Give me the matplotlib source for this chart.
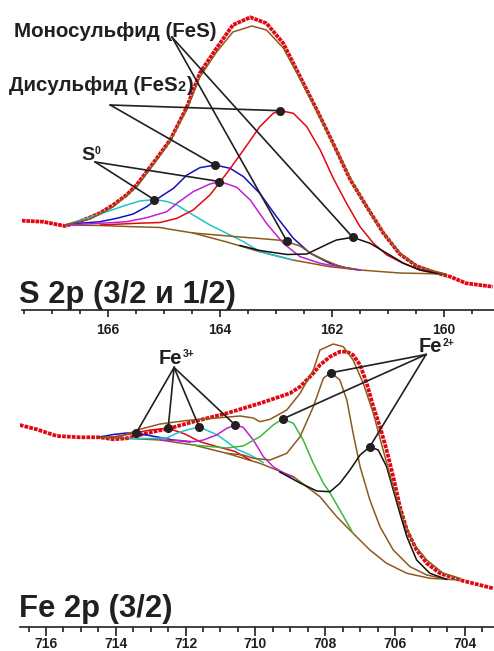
import matplotlib
matplotlib.use('Agg')
import matplotlib.pyplot as plt
from matplotlib.ticker import MultipleLocator

plt.rcParams['font.family'] = ['Liberation Sans', 'DejaVu Sans']

# ---- S 2p : binding energy (eV) and intensity (a.u.) ----
s_exp_e = [167.54, 167.16, 166.95, 166.77, 166.56, 166.32, 166.14, 165.91, 165.67, 165.49, 165.31,
           165.13, 164.89, 164.59, 164.36, 164.06, 163.77, 163.46, 163.17, 162.87, 162.57, 162.27,
           161.98, 161.68, 161.38, 161.08, 160.79, 160.49, 160.19, 159.89, 159.60, 159.13]
s_exp_i = [89.3, 88.3, 86, 84, 87.3, 92.7, 97, 105, 115, 125, 138.3,
           151.7, 170, 203.3, 237, 262, 285, 292.7, 286.7, 266.7, 233.3, 200,
           166.7, 131, 103.3, 76.7, 56, 44, 38, 33.3, 26.7, 23.3]
s_fit_e = [166.77, 166.32, 165.91, 165.49, 165.13, 164.89, 164.59, 164.36, 164.06, 163.77, 163.43, 163.17,
           162.87, 162.57, 162.27, 161.98, 161.68, 161.38, 161.08, 160.79, 160.49, 160.19, 159.98]
s_fit_i = [85, 91, 103, 123, 150, 169, 201, 233, 258, 278, 284, 280,
           262, 231, 199, 166, 132, 103, 77, 57, 44, 39, 36]
s_bg_e = [166.77, 166.14, 165.55, 165.07, 164.89, 164.48, 163.88, 163.29, 162.70, 162.04, 161.50, 160.79, 159.98]
s_bg_i = [85, 84.5, 83.3, 82.5, 80.7, 77, 68, 58.3, 50, 43.3, 40, 37, 36]
s_cyan_e = [166.77, 166.38, 166.02, 165.67, 165.43, 165.16, 164.95, 164.77, 164.48, 164.18, 163.88, 163.58, 163.29, 162.70]
s_cyan_i = [85, 91.7, 98.3, 105, 109, 110.5, 108.5, 105, 95, 85, 76.7, 68.3, 58.5, 50]
s_blue_e = [166.77, 166.50, 166.14, 165.84, 165.55, 165.31, 165.07, 164.83, 164.59, 164.36, 164.09,
            163.82, 163.58, 163.29, 162.99, 162.69, 162.39, 162.04, 161.77, 161.50]
s_blue_i = [85, 86.7, 88.3, 91.7, 96, 103.3, 113, 121.7, 135, 142.3, 145,
            141.7, 133.3, 116.7, 93.3, 71.7, 56.7, 46.7, 42.5, 40]
s_mag_e = [166.77, 166.14, 165.67, 165.31, 164.95, 164.77, 164.48, 164.18, 164.00, 163.70, 163.46,
           163.17, 162.87, 162.57, 162.21, 161.86, 161.50]
s_mag_i = [85, 86.7, 88.3, 92.3, 98.3, 106.7, 118.3, 126, 128.5, 122.7, 110,
           86.7, 66.7, 53.3, 46.7, 43, 40]
s_red_e = [166.14, 165.49, 165.07, 164.77, 164.48, 164.18, 163.88, 163.58, 163.29, 163.05, 162.92,
           162.69, 162.45, 162.21, 161.98, 161.74, 161.50, 161.26, 161.02, 160.73, 160.43, 160.20]
s_red_i = [85, 86.7, 87.5, 91.7, 100, 115, 136.7, 160, 183.3, 196.7, 199.3,
           196.7, 183.3, 160, 132, 106.7, 83.3, 66.7, 55, 46.7, 40, 37.3]
s_brown_e = [164.48, 164.06, 163.64, 163.29, 162.88, 162.57, 162.39, 162.13, 161.86, 161.59]
s_brown_i = [77, 75, 73, 71.5, 69.5, 64, 57, 50, 43.5, 40.5]
s_black_e = [163.64, 163.29, 162.80, 162.45, 162.04, 161.92, 161.63, 161.32, 161.02, 160.73, 160.43, 160.20, 159.98]
s_black_i = [64.5, 59.5, 55.5, 56, 67, 70, 72.7, 66.7, 56.7, 47, 40, 37.5, 36]

# ---- Fe 2p3/2 ----
fe_exp_e = [716.75, 716.27, 715.69, 715.03, 714.45, 714.07, 713.69, 713.31, 712.83, 712.45, 711.78,
            710.82, 709.87, 709.01, 708.72, 708.34, 708.15, 707.86, 707.58, 707.38, 707.20, 707.00,
            706.81, 706.62, 706.43, 706.24, 706.05, 705.86, 705.66, 705.38, 705.09, 704.71, 704.14, 703.19]
fe_exp_i = [202, 197.7, 191, 189.7, 189.7, 187.7, 188.7, 192, 196, 198.7, 205.3,
            213.7, 223.7, 233.7, 240.3, 253.7, 262, 270.3, 275.3, 275.3, 272, 262,
            243.7, 220.3, 200.3, 177, 150.3, 120.3, 97, 77, 63.7, 53.7, 47, 38.7]
fe_fit_e = [714.45, 713.88, 713.31, 712.73, 711.97, 711.11, 710.44, 710.06, 709.87, 709.58, 709.10, 708.72, 708.34,
            708.15, 707.77, 707.48, 707.20, 706.91, 706.62, 706.34, 706.05, 705.76, 705.48, 705.09, 704.62, 704.14]
fe_fit_i = [189.7, 190.3, 197.7, 203, 206.5, 209, 211, 209, 205.3, 207.7, 217, 233.7, 257,
            277, 283, 280.3, 267, 243.7, 213.7, 177, 140.3, 107, 83.7, 67, 53.7, 48.7]
fe_bg_e = [714.45, 713.59, 712.73, 711.78, 710.82, 709.87, 708.91, 708.15, 707.67, 707.20, 706.72,
           706.24, 705.66, 705.00, 704.14]
fe_bg_i = [189.5, 188.5, 187, 182, 173.7, 163.7, 150.3, 130.3, 110.3, 93.7, 77, 63.7, 53.7, 48.7, 47]
fe_brown_e = [710.82, 710.35, 710.06, 709.58, 709.10, 708.72, 708.34, 708.05, 707.83, 707.58, 707.38,
              707.20, 707.00, 706.72, 706.43, 706.05, 705.57, 705.09, 704.52]
fe_brown_i = [173.7, 172, 168.7, 167, 173.7, 190.3, 220.3, 249, 254.3, 247, 227,
              193.7, 160.3, 127, 100.3, 77, 60.3, 52, 47.7]
fe_black_e = [709.30, 708.72, 708.24, 707.86, 707.58, 707.29, 707.00, 706.72, 706.48, 706.24, 706.05,
              705.86, 705.66, 705.38, 705.00, 704.52]
fe_black_i = [155, 144, 136, 135.3, 143.7, 157, 172, 180.3, 177, 160.3, 137, 113.7, 90.3, 67, 53.7, 47.7]
fe_green_e = [711.78, 711.30, 710.82, 710.35, 709.87, 709.49, 709.22, 708.91, 708.63, 708.34, 708.05,
              707.86, 707.58, 707.20]
fe_green_i = [182, 180.5, 179, 181, 190.3, 202, 208, 203.7, 187, 163.7, 143.7, 134, 117, 93.7]
fe_mag_e = [712.73, 712.16, 711.78, 711.49, 711.11, 710.82, 710.58, 710.35, 710.06, 709.77, 709.49, 709.10, 708.91]
fe_mag_i = [187, 186.5, 185.3, 187, 192, 198.7, 202, 199.7, 187, 170.3, 160.3, 152, 150]
fe_cyan_e = [713.59, 713.02, 712.54, 712.26, 711.97, 711.61, 711.11, 710.82, 710.54, 710.15, 709.77]
fe_cyan_i = [188.5, 188.5, 189, 193.7, 197, 200, 192.5, 185.3, 178, 172, 164.5]
fe_red_e = [714.17, 713.59, 713.02, 712.50, 712.02, 711.59, 711.11, 710.58, 710.15]
fe_red_i = [189.5, 193, 197, 198.7, 193, 185.3, 180.5, 175.5, 167]
fe_blue_e = [714.45, 714.07, 713.69, 713.42, 713.12, 712.73, 712.35, 711.87]
fe_blue_i = [190, 192.5, 194, 193.7, 192, 189.5, 187, 185]

# annotation targets (peak maxima) and label anchors
mono_pts = [(162.81, 69.3), (161.63, 72.7)]
di_pts = [(162.92, 199.3), (164.09, 145)]
s0_pts = [(164.01, 128.5), (165.18, 110.5)]
fe3_pts = [(713.42, 193.7), (712.50, 198.7), (711.61, 200), (710.58, 202)]
fe2_pts = [(707.83, 254.3), (709.22, 208), (706.72, 180.3)]
mono_anchor, di_anchor, s0_anchor = (164.86, 273), (165.96, 205), (166.23, 148)
fe3_anchor, fe2_anchor = (712.33, 259.5), (705.11, 272.5)

W, H = 494, 651
INK = '#231f20'
RED = '#e30613'
BROWN = '#8c5a1e'

fig = plt.figure(figsize=(W / 100, H / 100), dpi=100)
ax1 = fig.add_axes([22 / W, 1 - 310 / H, 472 / W, 310 / H])
ax2 = fig.add_axes([20 / W, 1 - 627 / H, 474 / W, 292 / H])


def setup(ax, xlim, ylim, major_len, minor_len, pad):
    ax.set_xlim(*xlim)
    ax.set_ylim(*ylim)
    for side in ('top', 'left', 'right'):
        ax.spines[side].set_visible(False)
    ax.spines['bottom'].set_linewidth(1.2)
    ax.spines['bottom'].set_color(INK)
    ax.set_yticks([])
    ax.xaxis.set_major_locator(MultipleLocator(2))
    ax.xaxis.set_minor_locator(MultipleLocator(0.5))
    ax.tick_params(axis='x', which='major', direction='out', length=major_len, width=1.2,
                   color=INK, labelsize=10, labelcolor=INK, pad=pad)
    ax.tick_params(axis='x', which='minor', direction='out', length=minor_len, width=1.2, color=INK)
    for lab in ax.get_xticklabels():
        lab.set_fontweight('bold')
    ax.patch.set_visible(False)


setup(ax1, (167.536, 159.107), (0, 310), 5, 3, 4.5)
setup(ax2, (716.745, 703.163), (0, 292), 6.5, 3.5, 0.5)

lw = 1.1
# S 2p
ax1.plot(s_exp_e, s_exp_i, color=RED, lw=2.7, ls=(0, (1, 0.22)), dash_capstyle='butt', zorder=2)
ax1.plot(s_bg_e, s_bg_i, color=BROWN, lw=lw, zorder=3)
ax1.plot(s_cyan_e, s_cyan_i, color='#1fc3cc', lw=lw, zorder=3)
ax1.plot(s_blue_e, s_blue_i, color='#1010c8', lw=lw, zorder=3)
ax1.plot(s_mag_e, s_mag_i, color='#c31fd0', lw=lw, zorder=3)
ax1.plot(s_red_e, s_red_i, color=RED, lw=lw, zorder=3)
ax1.plot(s_brown_e, s_brown_i, color=BROWN, lw=lw, zorder=3)
ax1.plot(s_black_e, s_black_i, color='#111111', lw=lw, zorder=3)
ax1.plot(s_fit_e, s_fit_i, color=BROWN, lw=lw, zorder=4)

# Fe 2p
ax2.plot(fe_exp_e, fe_exp_i, color=RED, lw=2.7, ls=(0, (1, 0.3)), dash_capstyle='butt', zorder=2)
ax2.plot(fe_bg_e, fe_bg_i, color=BROWN, lw=lw, zorder=3)
ax2.plot(fe_blue_e, fe_blue_i, color='#1010c8', lw=lw, zorder=3)
ax2.plot(fe_red_e, fe_red_i, color=RED, lw=lw, zorder=3)
ax2.plot(fe_cyan_e, fe_cyan_i, color='#1fc3cc', lw=lw, zorder=3)
ax2.plot(fe_mag_e, fe_mag_i, color='#c31fd0', lw=lw, zorder=3)
ax2.plot(fe_green_e, fe_green_i, color='#3cb83c', lw=lw, zorder=3)
ax2.plot(fe_brown_e, fe_brown_i, color=BROWN, lw=lw, zorder=3)
ax2.plot(fe_black_e, fe_black_i, color='#111111', lw=lw, zorder=3)
ax2.plot(fe_fit_e, fe_fit_i, color=BROWN, lw=lw, zorder=4)


def pointers(ax, anchor, pts):
    for x, y in pts:
        ax.plot([anchor[0], x], [anchor[1], y], color=INK, lw=1.2, zorder=5, clip_on=False)
        ax.plot(x, y, 'o', color=INK, ms=5.5, zorder=6, clip_on=False)


pointers(ax1, mono_anchor, mono_pts)
pointers(ax1, di_anchor, di_pts)
pointers(ax1, s0_anchor, s0_pts)
pointers(ax2, fe3_anchor, fe3_pts)
pointers(ax2, fe2_anchor, fe2_pts)

renderer = fig.canvas.get_renderer()


def put_text(x, y, parts):
    # x, y in image pixels from top-left, y is the baseline
    for s, size, rise in parts:
        t = fig.text(x / W, 1 - (y - rise) / H, s, fontsize=size, fontweight='bold',
                     color=INK, va='baseline', ha='left')
        x = t.get_window_extent(renderer).x1


put_text(14, 37, [('Моносульфид (FeS)', 14.8, 0)])
put_text(9, 91, [('Дисульфид (FeS', 14.8, 0), ('2', 10.5, 0), (')', 14.8, 0)])
put_text(81, 160.5, [('S', 14, 0), ('0', 7.5, 6)])
put_text(159, 363.5, [('Fe', 14.5, 0), ('3+', 7.5, 6.5)])
put_text(419, 352, [('Fe', 14.5, 0), ('2+', 7.5, 6.2)])
put_text(19, 303.5, [('S 2p (3/2 и 1/2)', 22.2, 0)])
put_text(19, 617, [('Fe 2p (3/2)', 22.3, 0)])

fig.savefig('out.png', dpi=100)
